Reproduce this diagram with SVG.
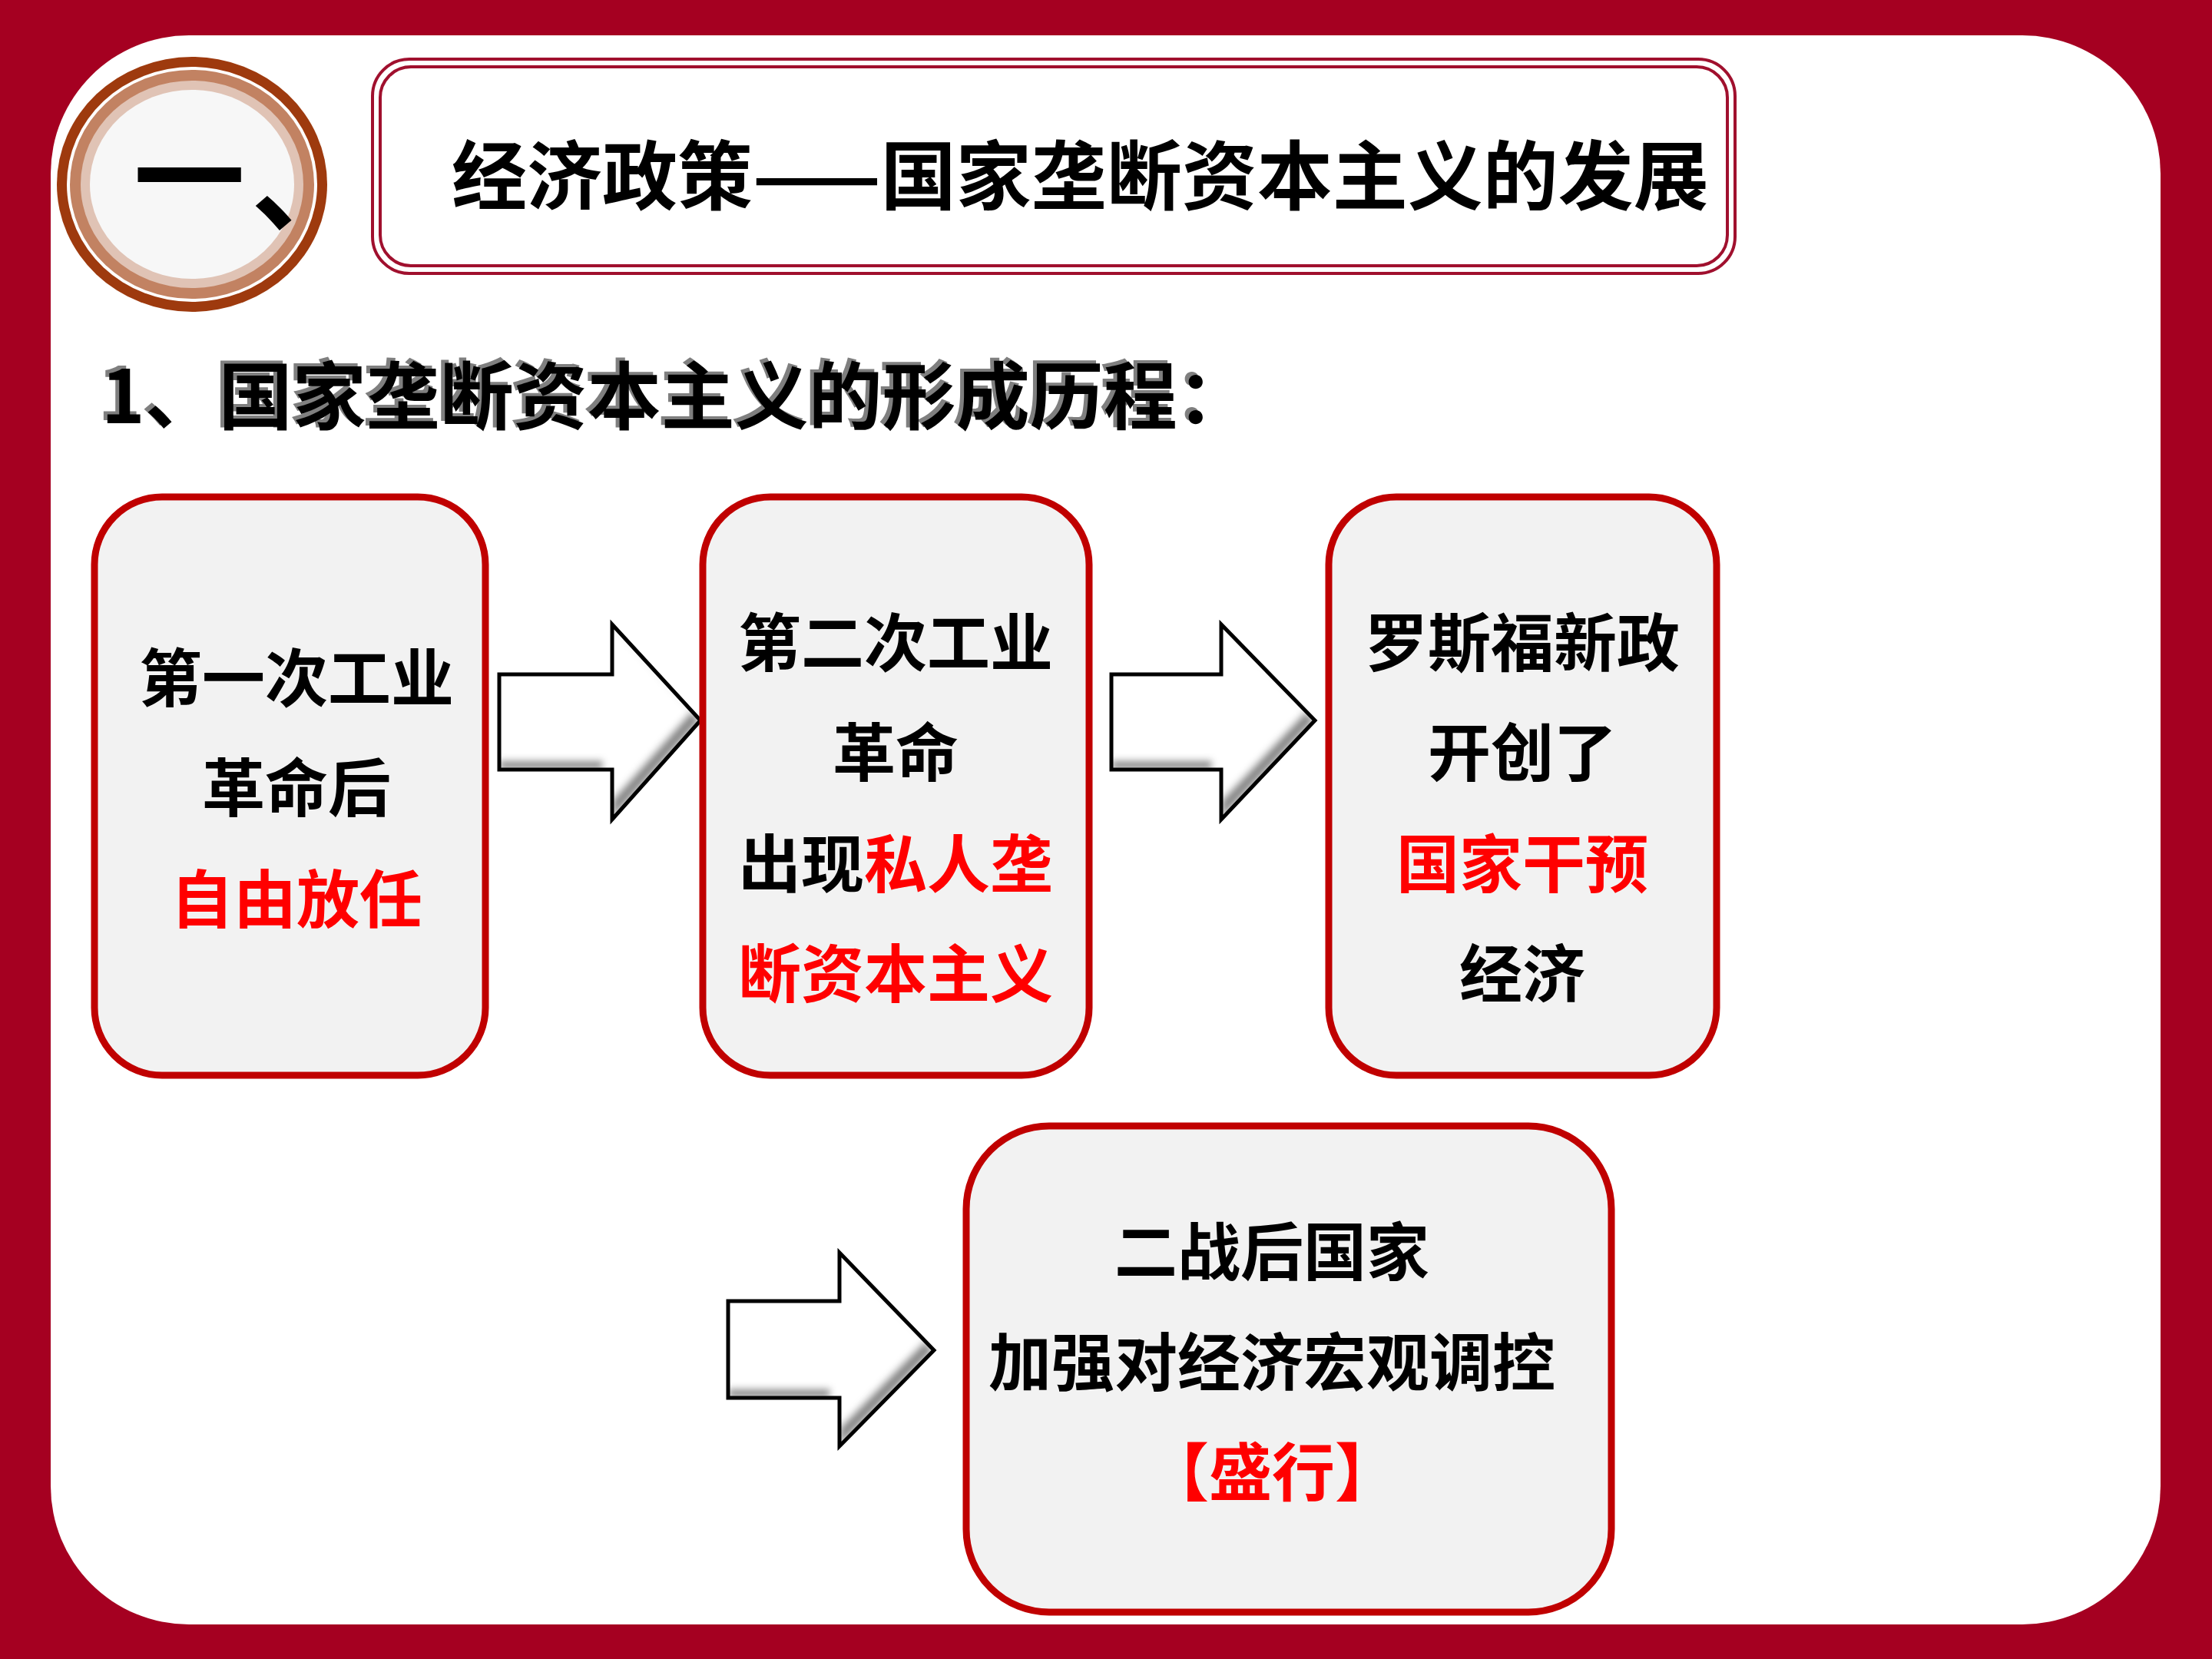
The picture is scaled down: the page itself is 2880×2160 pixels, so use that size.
<svg xmlns="http://www.w3.org/2000/svg" width="2880" height="2160" viewBox="0 0 2880 2160">
<defs>
<style>
.cjk{font-family:"Noto Sans CJK SC","Noto Sans CJK TC",sans-serif;font-weight:700}
.box{fill:#F2F2F2;stroke:#C00000;stroke-width:9}
.bt{font-size:82px;text-anchor:middle;fill:#000}
.red{fill:#FF0000}
.arrowfill{fill:#FFFFFF;filter:url(#bev)}
.arrowline{fill:none;stroke:#000;stroke-width:5;stroke-linejoin:miter}
.tb{fill:none;stroke:#A0102E;stroke-width:4}
</style>
<filter id="bev" x="-10%" y="-10%" width="120%" height="120%">
<feOffset in="SourceAlpha" dx="-12" dy="-12" result="off"/>
<feComposite in="SourceAlpha" in2="off" operator="out" result="edge"/>
<feGaussianBlur in="edge" stdDeviation="5" result="blur"/>
<feComposite in="blur" in2="SourceAlpha" operator="in" result="inner"/>
<feFlood flood-color="#000" flood-opacity="0.75"/>
<feComposite in2="inner" operator="in" result="shade"/>
<feMerge><feMergeNode in="SourceGraphic"/><feMergeNode in="shade"/></feMerge>
</filter>
</defs>
<rect x="0" y="0" width="2880" height="2160" fill="#A50021"/>
<rect x="66" y="46" width="2747" height="2069" rx="180" ry="180" fill="#FFFFFF"/>

<g id="badge">
<ellipse cx="250" cy="240" rx="176" ry="166" fill="#9E3A0E"/>
<ellipse cx="250" cy="240" rx="163" ry="153" fill="#FFFFFF"/>
<ellipse cx="250" cy="240" rx="159" ry="149" fill="#C28262"/>
<ellipse cx="250" cy="240" rx="145" ry="135" fill="#E0C3B5"/>
<ellipse cx="250" cy="240" rx="133" ry="123" fill="#F7F7F7"/>
<text class="cjk" x="174" y="284" font-size="145" fill="#000">一<tspan dx="8" dy="6">、</tspan></text>
</g>

<g id="title">
<rect class="tb" x="485" y="77" width="1774" height="279" rx="48" ry="48"/>
<rect class="tb" x="495" y="87" width="1754" height="259" rx="40" ry="40"/>
<text class="cjk" x="588" y="265" font-size="98" fill="#000">经济政策——国家垄断资本主义的发展</text>
</g>

<g id="subtitle">
<text class="cjk" x="127" y="547" font-size="96" fill="#7F7F7F">1、国家垄断资本主义的形成历程：</text>
<text class="cjk" x="132" y="551" font-size="96" fill="#000">1、国家垄断资本主义的形成历程：</text>
</g>

<g id="connectors">
<g id="arrow1">
<path class="arrowfill" d="M650,878 H797 V813 L912,938 L797,1067 V1002 H650 Z"/>
<path class="arrowline" d="M650,878 H797 V813 L912,938 L797,1067 V1002 H650 Z"/>
</g>
<g id="arrow2">
<path class="arrowfill" d="M1447,878 H1590 V813 L1712,938 L1590,1067 V1002 H1447 Z"/>
<path class="arrowline" d="M1447,878 H1590 V813 L1712,938 L1590,1067 V1002 H1447 Z"/>
</g>
<g id="arrow3">
<path class="arrowfill" d="M948,1694 H1093 V1631 L1216,1758 L1093,1883 V1820 H948 Z"/>
<path class="arrowline" d="M948,1694 H1093 V1631 L1216,1758 L1093,1883 V1820 H948 Z"/>
</g>
</g>

<g id="node1">
<rect class="box" x="123" y="647" width="509" height="753" rx="88" ry="88"/>
<text class="cjk bt" x="386" y="913">第一次工业</text>
<text class="cjk bt" x="386" y="1056">革命后</text>
<text class="cjk bt red" x="386" y="1201">自由放任</text>
</g>

<g id="node2">
<rect class="box" x="915" y="647" width="503" height="753" rx="88" ry="88"/>
<text class="cjk bt" x="1166" y="867">第二次工业</text>
<text class="cjk bt" x="1166" y="1010">革命</text>
<text class="cjk bt" x="1166" y="1155">出现<tspan class="red">私人垄</tspan></text>
<text class="cjk bt red" x="1166" y="1298">断资本主义</text>
</g>

<g id="node3">
<rect class="box" x="1730" y="647" width="505" height="753" rx="88" ry="88"/>
<text class="cjk bt" x="1982" y="867">罗斯福新政</text>
<text class="cjk bt" x="1982" y="1010">开创了</text>
<text class="cjk bt red" x="1982" y="1155">国家干预</text>
<text class="cjk bt" x="1982" y="1298">经济</text>
</g>

<g id="node4">
<rect class="box" x="1258" y="1466" width="840" height="633" rx="108" ry="108"/>
<text class="cjk bt" x="1656" y="1660">二战后国家</text>
<text class="cjk bt" x="1656" y="1804">加强对经济宏观调控</text>
<text class="cjk bt red" x="1656" y="1947">【盛行】</text>
</g>
</svg>
